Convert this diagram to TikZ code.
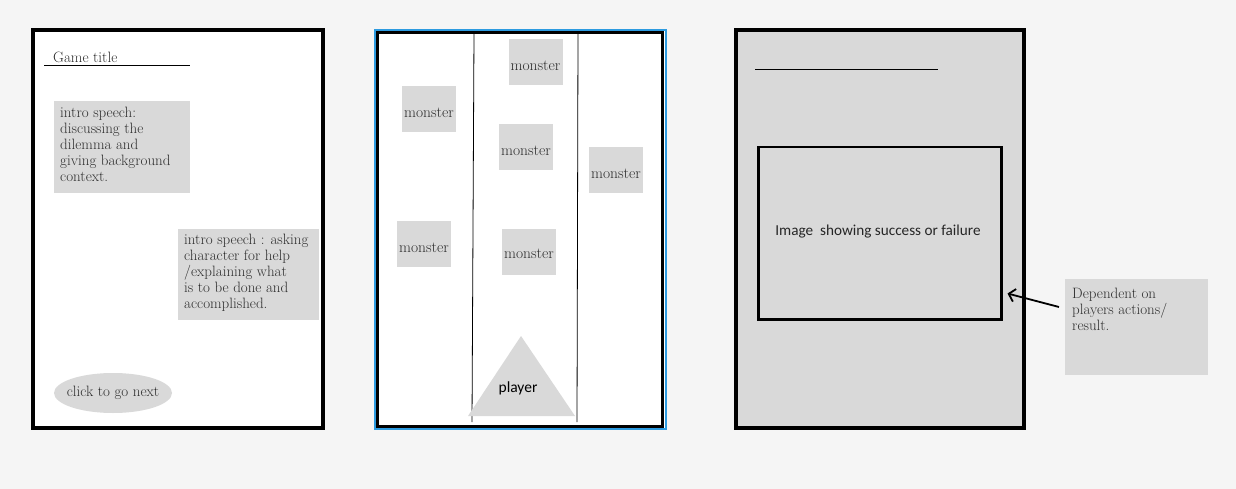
\documentclass[tikz,border=0pt]{standalone}
\usepackage{fontspec}
\newfontfamily\uifont{Carlito}
\usetikzlibrary{positioning,arrows.meta,shapes.geometric}

\definecolor{canvas}{HTML}{F5F5F5}
\definecolor{cardgray}{HTML}{D9D9D9}
\definecolor{selblue}{HTML}{2D9BE0}
\definecolor{inkgray}{HTML}{2E2E2E}

\begin{document}
\begin{tikzpicture}[
        x=1pt, y=-1pt,
        screen/.style={
                draw=black,
                line width=3.5pt,
                fill=white,
            },
        card/.style={
                rectangle,
                fill=cardgray,
                inner sep=0pt,
                anchor=north west,
            },
        speech/.style={
                anchor=north west,
                align=left,
                inner sep=0pt,
                text=inkgray,
                font=\fontsize{15}{16}\selectfont,
            },
        monster/.style={
                rectangle,
                fill=cardgray,
                text=inkgray,
                minimum width=54pt,
                minimum height=46pt,
                inner sep=0pt,
                text height=17pt,
                text depth=0pt,
                font=\fontsize{15.5}{16}\selectfont,
            },
        lane/.style={
                draw=black,
                line width=0.8pt,
            },
        >= {Straight Barb[length=6pt,width=13pt,line width=1.8pt]}
    ]
    \useasboundingbox[fill=canvas] (0,0) rectangle (1236,489);

    % start screen
    \draw[screen] (33,30) rectangle (323,428);
    \node[speech, anchor=base west] (title) at (53,63) {Game title};
    \coordinate (titleA) at (44,66);
    \coordinate (titleB) at (190,66);
    \draw[line width=1pt] (titleA) -- (titleB);
    \node[card, minimum width=136pt, minimum height=92pt] (intro1) at (54,101) {};
    \node[speech] (intro1text) at ([shift={(6,6)}]intro1.north west)
        {intro speech:\\discussing the\\dilemma and\\giving background\\context.};
    \node[card, minimum width=141pt, minimum height=91pt] (intro2) at (178,229) {};
    \node[speech] (intro2text) at ([shift={(6,5)}]intro2.north west)
        {intro speech : asking\\character for help\\/explaining what\\is to be done and\\accomplished.};
    \coordinate (nextC) at (113,393);
    \fill[cardgray] (nextC) ellipse [x radius=59, y radius=20];
    \node[text=inkgray, font=\fontsize{15}{16}\selectfont] (next) at (nextC) {click to go next};

    % game screen
    \draw[draw=selblue, line width=2pt, fill=white] (374.5,30) rectangle (665.5,429);
    \draw[draw=black, line width=3pt] (377.5,33) rectangle (662.5,426);
    \coordinate (laneAtop) at (474,33);
    \coordinate (laneAbot) at (472,422);
    \coordinate (laneBtop) at (578,33);
    \coordinate (laneBbot) at (577,422);
    \draw[lane] (laneAtop) -- (laneAbot);
    \draw[lane] (laneBtop) -- (laneBbot);

    \node[monster] (monsterA) at (535.5,62.5) {monster};
    \node[monster] (monsterB) at (429,109) {monster};
    \node[monster] (monsterC) at (526,147) {monster};
    \node[monster] (monsterD) at (616,170) {monster};
    \node[monster] (monsterE) at (424,244) {monster};
    \node[monster, text height=13pt] (monsterF) at (529,252) {monster};

    \coordinate (playerTop) at (521,336);
    \coordinate (playerLeft) at (468,416);
    \coordinate (playerRight) at (575,416);
    \fill[cardgray] (playerTop) -- (playerRight) -- (playerLeft) -- cycle;
    \node[font=\uifont\fontsize{15.5}{16}\selectfont, text=black] (player) at (518,388) {player};

    % result screen
    \draw[screen, fill=cardgray] (736,30) rectangle (1024,428);
    \coordinate (resultA) at (755,70);
    \coordinate (resultB) at (938,70);
    \draw[line width=1pt] (resultA) -- (resultB);
    \node[rectangle, draw=black, line width=2.5pt, anchor=north west,
        minimum width=243pt, minimum height=172pt, inner sep=0pt] (image) at (757,146) {};
    \node[font=\uifont\fontsize{15.2}{16}\selectfont, text=black!85] (imagetext) at (878,232)
        {Image\ \ showing success or failure};

    % note
    \node[card, minimum width=143pt, minimum height=96pt] (note) at (1065,279) {};
    \node[speech] (notetext) at ([shift={(7,9)}]note.north west)
        {Dependent on\\players actions/\\result.};
    \coordinate (noteTail) at (1059,307);
    \draw[->, line width=1.8pt] (noteTail) -- ([shift={(5,-27)}]image.south east);
\end{tikzpicture}
\end{document}
